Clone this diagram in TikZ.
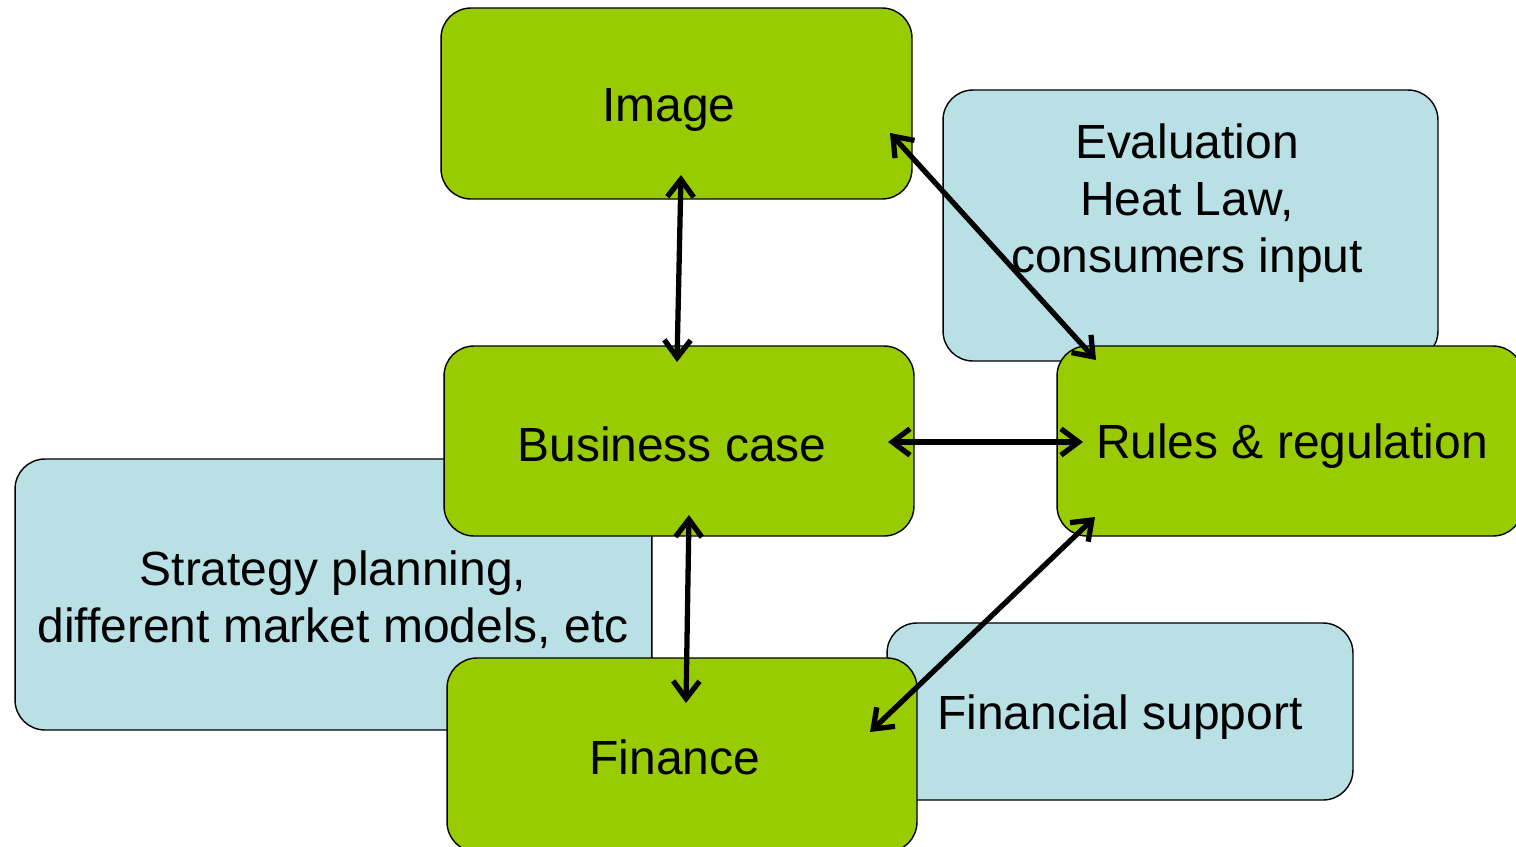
\documentclass[tikz,border=0pt]{standalone}
\usepackage{fontspec}
\setmainfont{Liberation Sans}
\usetikzlibrary{arrows.meta}
\definecolor{boxgreen}{RGB}{153,204,0}
\definecolor{boxblue}{RGB}{185,224,228}
\tikzset{
  greenbox/.style={draw=black, line width=0.8pt, fill=boxgreen, rounded corners=17pt, inner sep=0pt},
  bluebox/.style={draw=black, line width=0.8pt, fill=boxblue, rounded corners=17pt, inner sep=0pt},
  label/.style={align=center, font=\fontsize{27.3}{32.5}\selectfont},
  link/.style={line width=3pt, line cap=round, {Straight Barb[length=10pt,width=15pt,line width=3pt]}-{Straight Barb[length=10pt,width=15pt,line width=3pt]}}
}
\begin{document}
\begin{tikzpicture}[x=0.02cm, y=-0.02cm]
\useasboundingbox (0,0) rectangle (1516,846);
\clip (0,0) rectangle (1516,846);
% background boxes
\node[bluebox, minimum width=9.9cm, minimum height=5.42cm] (eval) at (1190.5,225.5) {};
\node[label] (evaltext) at (1187,203) {Evaluation\\Heat Law,\\consumers input};
\node[bluebox, minimum width=12.74cm, minimum height=5.42cm] (strat) at (333.5,594.5) {};
\node[label] (strattext) at (333,600) {Strategy planning,\\different market models, etc};
\node[bluebox, minimum width=9.32cm, minimum height=3.54cm] (fs) at (1120,711.5) {};
\node[label] (fstext) at (1120,717) {Financial support};
% green boxes
\node[greenbox, minimum width=9.42cm, minimum height=3.82cm] (img) at (676.5,103.5) {};
\node[label] (imgtext) at (669,110) {Image};
\node[greenbox, minimum width=9.4cm, minimum height=3.8cm] (biz) at (679,441) {};
\node[label] (biztext) at (672,444) {Business case};
\node[greenbox, minimum width=9.32cm, minimum height=3.8cm] (rules) at (1290,441) {};
\node[label] (rulestext) at (1292,446) {Rules \& regulation};
\node[greenbox, minimum width=9.4cm, minimum height=3.88cm] (fin) at (682,755) {};
\node[label] (fintext) at (675,757) {Finance};
% arrow end points
\coordinate (a1s) at (681,175);
\coordinate (a1e) at (677,362);
\coordinate (a2s) at (890,133);
\coordinate (a2e) at (1096,360);
\coordinate (a3s) at (888,442);
\coordinate (a3e) at (1083,442);
\coordinate (a4s) at (689,515);
\coordinate (a4e) at (686,703);
\coordinate (a5s) at (1095,517);
\coordinate (a5e) at (870,732);
\draw[link] (a1s) -- (a1e);
\draw[link] (a2s) -- (a2e);
\draw[link] (a3s) -- (a3e);
\draw[link] (a4s) -- (a4e);
\draw[link] (a5s) -- (a5e);
\end{tikzpicture}
\end{document}
